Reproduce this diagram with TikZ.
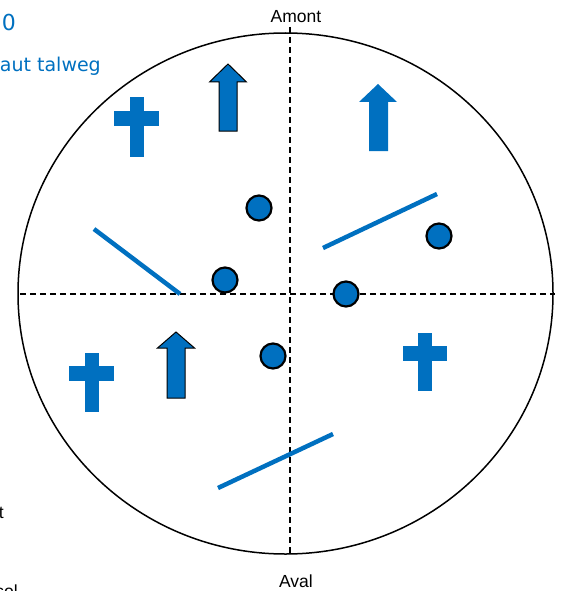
\documentclass[tikz,border=0pt]{standalone}
\usepackage{fontspec}
\setmainfont{Liberation Sans}
\newfontfamily\notefont{DejaVu Sans}
\definecolor{talwegBlue}{RGB}{0,112,192}
\begin{document}
\begin{tikzpicture}[x=1pt, y=-1pt,
    rosePlanStyle/.style={black, line width=1.5pt},
    roseAxisStyle/.style={black, line width=1.2pt, dash pattern=on 6pt off 4pt},
    roseBarStyle/.style={talwegBlue, line width=4.5pt},
    roseDotStyle/.style={circle, fill=talwegBlue, draw=black, line width=2.2pt,
        minimum size=25pt, inner sep=0pt},
    roseLabelStyle/.style={font=\fontsize{17.5}{20}\selectfont, inner sep=1pt},
    roseNoteStyle/.style={talwegBlue, font=\notefont\fontsize{19}{22}\selectfont,
        anchor=base east, inner sep=0pt}
]
    \useasboundingbox (0,0) rectangle (565,591);

    % cercle et axes
    \draw[rosePlanStyle] (285.5,293.5) ellipse [x radius=267.5, y radius=260.5];
    \node[roseLabelStyle, anchor=base] (amont) at (296,23) {Amont};
    \node[roseLabelStyle, anchor=base] (aval) at (296,587) {Aval};
    \draw[roseAxisStyle] (290,27) -- (290,556);
    \draw[roseAxisStyle] (20,294) -- (555,294);

    % textes coupés à gauche
    \node[roseNoteStyle, font=\notefont\fontsize{22}{24}\selectfont] (titre) at (16,31) {10};
    \node[roseNoteStyle] (talweg) at (101,72) {Haut talweg};
    \node[roseLabelStyle, anchor=base east, inner sep=0pt] (bordT) at (4,518) {t};
    \node[roseLabelStyle, anchor=base east, inner sep=0pt] (bordSol) at (18,597) {sol};

    % croix
    \foreach \vx/\vt/\vb/\hl/\hr/\ht in {130/97/157/114/159/111,
                                        85/353/412/69/114/366,
                                        418/333/391/403/447/346} {
        \fill[talwegBlue] (\vx,\vt) rectangle ++(14,\vb-\vt);
        \fill[talwegBlue] (\hl,\ht) rectangle (\hr,\ht+15);
    }

    % flèches
    \foreach \tx/\ty/\hy/\by in {228/64/82/131, 176/332/348/398} {
        \filldraw[fill=talwegBlue, draw=black, line width=1pt]
            (\tx,\ty) -- (\tx+18.5,\hy) -- (\tx+9,\hy) -- (\tx+9,\by)
            -- (\tx-9,\by) -- (\tx-9,\hy) -- (\tx-18.5,\hy) -- cycle;
    }
    \fill[talwegBlue] (378,84) -- (397,102) -- (388,102) -- (388,151)
        -- (369,151) -- (369,102) -- (359,102) -- cycle;

    % traits
    \draw[roseBarStyle] (94,229) -- (180,294);
    \draw[roseBarStyle] (323,248) -- (437,194);
    \draw[roseBarStyle] (218,488) -- (333,434);

    % points
    \node[roseDotStyle] (p1) at (259,208) {};
    \node[roseDotStyle] (p2) at (225,280) {};
    \node[roseDotStyle] (p3) at (346,294) {};
    \node[roseDotStyle] (p4) at (439,236) {};
    \node[roseDotStyle] (p5) at (273,356) {};
\end{tikzpicture}
\end{document}
